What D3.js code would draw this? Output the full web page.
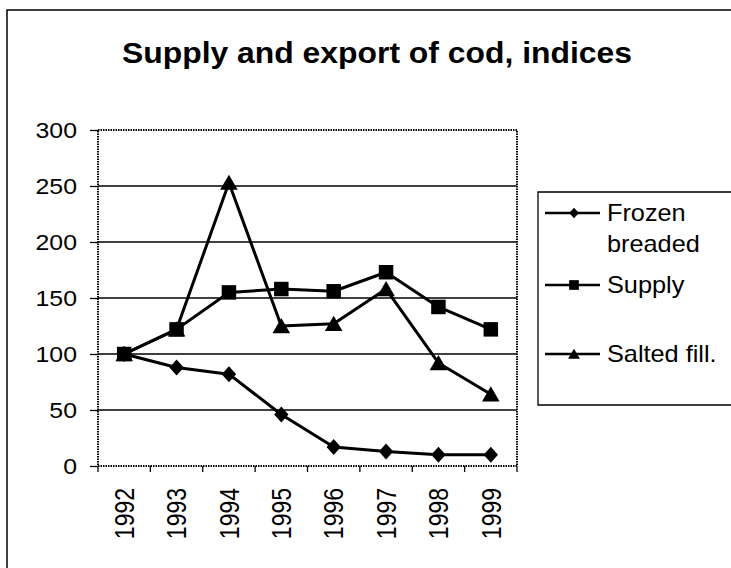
<!DOCTYPE html>
<html lang="en">
<head>
    <meta charset="UTF-8">
    <title>Supply and export of cod, indices</title>
    <script src="https://d3js.org/d3.v7.min.js"></script>
    <style>
        body { margin: 0; background: #fff; }
        text { font-family: "Liberation Sans", Arial, sans-serif; fill: #000; }
    </style>
</head>
<body>
    <div id="chart"></div>
    <script>
        // data
        const years = ["1992", "1993", "1994", "1995", "1996", "1997", "1998", "1999"];
        const frozenBreaded = [100, 88, 82, 46, 17, 13, 10, 10];
        const supply = [100, 122, 155, 158, 156, 173, 142, 122];
        const saltedFill = [100, 122, 253, 125, 127, 158, 92, 64];
        const yTicks = [0, 50, 100, 150, 200, 250, 300];
        const legendLabels = [["Frozen", "breaded"], ["Supply"], ["Salted fill."]];

        const W = 731, H = 568;
        const plot = { left: 98, right: 517, top: 130, bottom: 466 };

        const svg = d3.select("#chart").append("svg")
            .attr("width", W).attr("height", H);

        // outer chart frame (top and left visible)
        svg.append("path")
            .attr("d", `M7,${H} V10 H${W}`)
            .attr("fill", "none").attr("stroke", "#000").attr("stroke-width", 1.5);

        svg.append("text")
            .attr("x", 122).attr("y", 63)
            .attr("font-size", 29).attr("font-weight", "bold")
            .attr("textLength", 510).attr("lengthAdjust", "spacingAndGlyphs")
            .text("Supply and export of cod, indices");

        const x = d3.scaleBand().domain(years).range([plot.left, plot.right]);
        const y = d3.scaleLinear().domain([0, 300]).range([plot.bottom, plot.top]);

        // gridlines
        svg.append("g").selectAll("line")
            .data(yTicks.filter(v => v > 0 && v < 300))
            .join("line")
            .attr("x1", plot.left).attr("x2", plot.right)
            .attr("y1", d => y(d)).attr("y2", d => y(d))
            .attr("stroke", "#000").attr("stroke-width", 1.3);

        // plot area border, dotted
        svg.append("rect")
            .attr("x", plot.left).attr("y", plot.top)
            .attr("width", plot.right - plot.left).attr("height", plot.bottom - plot.top)
            .attr("fill", "none").attr("stroke", "#000").attr("stroke-width", 2)
            .attr("stroke-dasharray", "1.5,1");

        // y axis
        const yAxis = svg.append("g")
            .attr("transform", `translate(${plot.left},0)`)
            .call(d3.axisLeft(y).tickValues(yTicks).tickSize(8));
        yAxis.select(".domain").remove();
        yAxis.selectAll("line").attr("stroke-width", 1.3);
        yAxis.selectAll("text")
            .attr("font-size", 22).attr("font-family", null)
            .attr("text-anchor", "end")
            .attr("x", 0).attr("dy", "0.36em")
            .attr("transform", "translate(-21,0) scale(1.13,1)");

        // x axis
        const xAxis = svg.append("g")
            .attr("transform", `translate(0,${plot.bottom})`)
            .call(d3.axisBottom(x).tickSize(0));
        xAxis.select(".domain").remove();
        xAxis.selectAll("text")
            .attr("font-size", 23).attr("font-family", null)
            .attr("transform", "rotate(-90) scale(1,1.17)")
            .attr("text-anchor", "end")
            .attr("x", -22).attr("y", 0).attr("dy", "0.36em");
        // category separator ticks
        svg.append("g").selectAll("line")
            .data(d3.range(years.length + 1))
            .join("line")
            .attr("x1", i => plot.left + i * x.step()).attr("x2", i => plot.left + i * x.step())
            .attr("y1", plot.bottom).attr("y2", plot.bottom + 6)
            .attr("stroke", "#000").attr("stroke-width", 1.3);

        // marker shapes (fatter diamond than d3's built-in)
        const diamond = { draw(ctx, size) { const r = Math.sqrt(size) / 2; ctx.moveTo(0, -r); ctx.lineTo(r * 0.9, 0); ctx.lineTo(0, r); ctx.lineTo(-r * 0.9, 0); ctx.closePath(); } };
        const square = { draw(ctx, size) { const r = Math.sqrt(size) / 2; ctx.rect(-r, -r, 2 * r, 2 * r); } };
        const triangle = { draw(ctx, size) { const r = Math.sqrt(size) / 2; ctx.moveTo(0, -r); ctx.lineTo(r * 1.1, r * 0.9); ctx.lineTo(-r * 1.1, r * 0.9); ctx.closePath(); } };
        const markerTypes = [diamond, square, triangle];
        const markerSizes = [256, 210, 256];

        const allSeries = [frozenBreaded, supply, saltedFill];
        const cx = i => x(years[i]) + x.bandwidth() / 2;
        const line = d3.line().x((d, i) => cx(i)).y(d => y(d));

        allSeries.forEach((vals, s) => {
            svg.append("path")
                .attr("d", line(vals))
                .attr("fill", "none").attr("stroke", "#000").attr("stroke-width", 3)
                .attr("stroke-linejoin", "round");
            svg.append("g").selectAll("path")
                .data(vals)
                .join("path")
                .attr("d", d3.symbol().type(markerTypes[s]).size(markerSizes[s]))
                .attr("transform", (d, i) => `translate(${cx(i)},${y(d)})`)
                .attr("fill", "#000");
        });

        // legend
        const lg = svg.append("g");
        lg.append("path")
            .attr("d", `M${W},192 H538 V405 H${W}`)
            .attr("fill", "none").attr("stroke", "#000").attr("stroke-width", 1.3);
        const legendY = [213, 285, 354];
        legendY.forEach((ly, s) => {
            lg.append("line")
                .attr("x1", 545).attr("x2", 600).attr("y1", ly).attr("y2", ly)
                .attr("stroke", "#000").attr("stroke-width", 2.5);
            lg.append("path")
                .attr("d", d3.symbol().type(markerTypes[s]).size(markerSizes[s] * 0.45))
                .attr("transform", `translate(574,${ly})`).attr("fill", "#000");
            const t = lg.append("text")
                .attr("transform", `translate(607,${ly}) scale(1.1,1)`)
                .attr("font-size", 23);
            legendLabels[s].forEach((part, k) => {
                t.append("tspan").attr("x", 0).attr("y", k * 31).attr("dy", "0.36em").text(part);
            });
        });
    </script>
</body>
</html>
